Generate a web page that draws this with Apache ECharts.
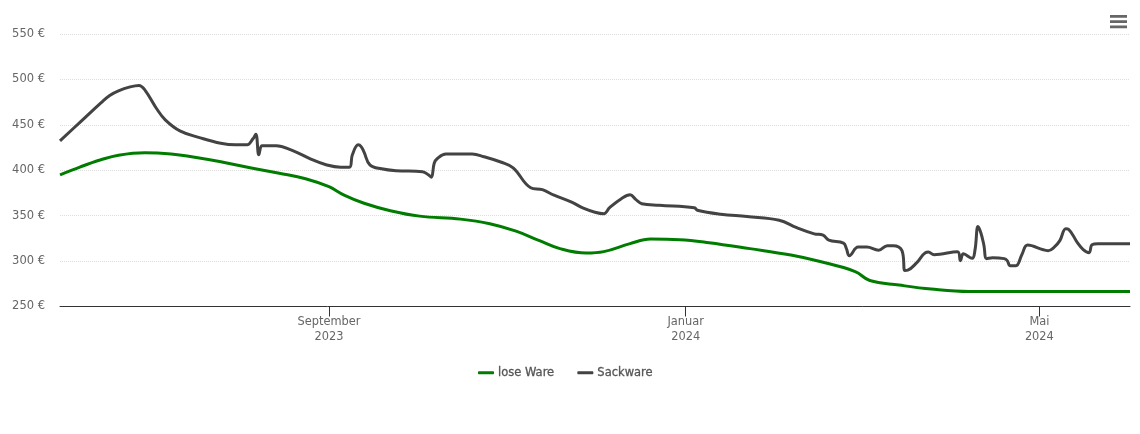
<!DOCTYPE html>
<html>
<head>
<meta charset="utf-8">
<title>Preisentwicklung</title>
<script src="https://cdn.jsdelivr.net/npm/echarts@6/dist/echarts.min.js"></script>
<style>html,body{margin:0;padding:0;background:#fff}#chart{width:1140px;height:434px}</style>
</head>
<body>
<div id="chart"></div>
<script>
const looseDates = ['2023-06-01','2023-06-08','2023-06-15','2023-06-21','2023-06-30','2023-07-09','2023-07-15','2023-07-26','2023-08-05','2023-08-15','2023-08-24','2023-09-01','2023-09-06','2023-09-13','2023-09-22','2023-10-02','2023-10-16','2023-10-26','2023-11-04','2023-11-12','2023-11-19','2023-11-28','2023-12-04','2023-12-13','2023-12-20','2023-12-30','2024-01-09','2024-01-23','2024-02-06','2024-02-16','2024-02-28','2024-03-04','2024-03-14','2024-03-25','2024-04-07','2024-06-01'];
const looseValues = [395,403.8,411.5,416.5,419.2,418,415.4,409.3,402.7,396.7,390.7,381.9,373,363.7,355.5,349.5,346.2,341.2,333,322.5,313.7,308.8,310.4,319.2,324.2,323.6,320.3,313.7,306.6,299.5,288.5,278.6,273.6,269.2,266.5,266.5];

const sackDates = ['2023-06-01','2023-06-08','2023-06-15','2023-06-18','2023-06-21','2023-06-25','2023-06-28','2023-06-30','2023-07-04','2023-07-07','2023-07-12','2023-07-19','2023-07-26','2023-07-31','2023-08-04','2023-08-06','2023-08-07','2023-08-08','2023-08-09','2023-08-10','2023-08-14','2023-08-19','2023-08-26','2023-08-31','2023-09-05','2023-09-08','2023-09-09','2023-09-11','2023-09-12','2023-09-13','2023-09-15','2023-09-19','2023-09-24','2023-10-03','2023-10-05','2023-10-06','2023-10-07','2023-10-08','2023-10-11','2023-10-20','2023-10-24','2023-10-30','2023-11-03','2023-11-09','2023-11-13','2023-11-17','2023-11-23','2023-11-27','2023-12-01','2023-12-04','2023-12-06','2023-12-10','2023-12-13','2023-12-15','2023-12-17','2023-12-23','2024-01-04','2024-01-05','2024-01-13','2024-01-22','2024-02-02','2024-02-08','2024-02-14','2024-02-17','2024-02-19','2024-02-24','2024-02-25','2024-02-26','2024-02-29','2024-03-03','2024-03-07','2024-03-10','2024-03-12','2024-03-15','2024-03-16','2024-03-17','2024-03-20','2024-03-23','2024-03-24','2024-03-26','2024-04-03','2024-04-04','2024-04-05','2024-04-08','2024-04-09','2024-04-10','2024-04-11','2024-04-12','2024-04-13','2024-04-15','2024-04-19','2024-04-20','2024-04-21','2024-04-23','2024-04-25','2024-04-27','2024-05-04','2024-05-06','2024-05-08','2024-05-10','2024-05-11','2024-05-14','2024-05-16','2024-05-18','2024-05-19','2024-05-21','2024-06-01'];
const sackValues = [432.4,453.3,474.2,482.4,487.5,491.8,493.4,488.5,468,455.5,443.4,435.7,429.7,428,428,434.6,439.6,417,427,427,427,422.5,412,406,403.3,403.3,417,428,426,420,406,401.6,399.5,398.4,395,392.3,407.7,412.6,417.8,417.8,414.8,408.8,402.7,380.8,378.6,372.5,365,358.2,353.8,352.2,358.8,368.7,373,367.6,363.2,361.5,358.8,356,351.6,349,345,336.8,330,328.6,323,319.8,313.7,306,315.4,315.4,312,317,317,311.5,289.6,290,298,309.3,309.9,307,310.4,300.5,308,303,312.6,338,331,318,302.7,303.8,302.7,300.5,295,295,307,317.6,311.5,315,322.5,335.7,335,320.3,312.6,309.3,318,319,319];

const tickDates = ['2023-09-01','2024-01-01','2024-05-01'];
const tickLabels = ['September\n2023','Januar\n2024','Mai\n2024'];
const toTime = d => Date.parse(d + 'T00:00:00Z');
const tickValues = tickDates.map(toTime);
const fontName = 'DejaVu Sans';

const chart = echarts.init(document.getElementById('chart'), null, {renderer:'canvas'});
chart.setOption({
  animation:false,
  backgroundColor:'#fff',
  textStyle:{fontFamily:fontName},
  grid:{left:60,right:10,top:34,bottom:127.5},
  tooltip:{trigger:'axis'},
  toolbox:{
    right:-2,top:0,itemSize:17,
    iconStyle:{color:'#666',borderWidth:0},
    feature:{myMenu:{show:true,title:'Menü',icon:'path://M1 3H19V6H1ZM1 8.5H19V11.5H1ZM1 14H19V17H1Z',onclick(){}}}
  },
  legend:{
    bottom:50,left:473,itemWidth:16,itemHeight:3,itemGap:23,icon:'roundRect',
    textStyle:{color:'#555',fontSize:11.5,fontWeight:'normal',textBorderColor:'#555',textBorderWidth:0.3,padding:[0,0,0,-1]},
    data:['lose Ware','Sackware']
  },
  xAxis:{
    type:'value',
    min:toTime('2023-06-01'),
    max:toTime('2024-06-01'),
    axisLine:{onZero:false,lineStyle:{color:'#333',width:1}},
    axisTick:{show:true,length:10,customValues:tickValues,lineStyle:{color:'#333'}},
    axisLabel:{
      customValues:tickValues,
      color:'#666',fontSize:11.4,lineHeight:15,margin:8,hideOverlap:false,
      showMinLabel:true,showMaxLabel:true,
      formatter:v => tickLabels[tickValues.indexOf(+v)] || ''
    },
    splitLine:{show:false}
  },
  yAxis:{
    type:'value',min:250,max:550,interval:50,
    axisLine:{show:false},axisTick:{show:false},
    axisLabel:{color:'#666',fontSize:11.5,margin:15,padding:[0,0,2,0],formatter:'{value} €'},
    splitLine:{lineStyle:{color:'#ddd',type:'dotted',width:1}}
  },
  series:[
    {name:'lose Ware',type:'line',smooth:0.4,showSymbol:false,
      lineStyle:{color:'#007c00',width:3},itemStyle:{color:'#007c00'},
      data:looseDates.map((d,i)=>[toTime(d),looseValues[i]])},
    {name:'Sackware',type:'line',smooth:0.4,showSymbol:false,
      lineStyle:{color:'#434343',width:3},itemStyle:{color:'#434343'},
      data:sackDates.map((d,i)=>[toTime(d),sackValues[i]])}
  ]
});
</script>
</body>
</html>
